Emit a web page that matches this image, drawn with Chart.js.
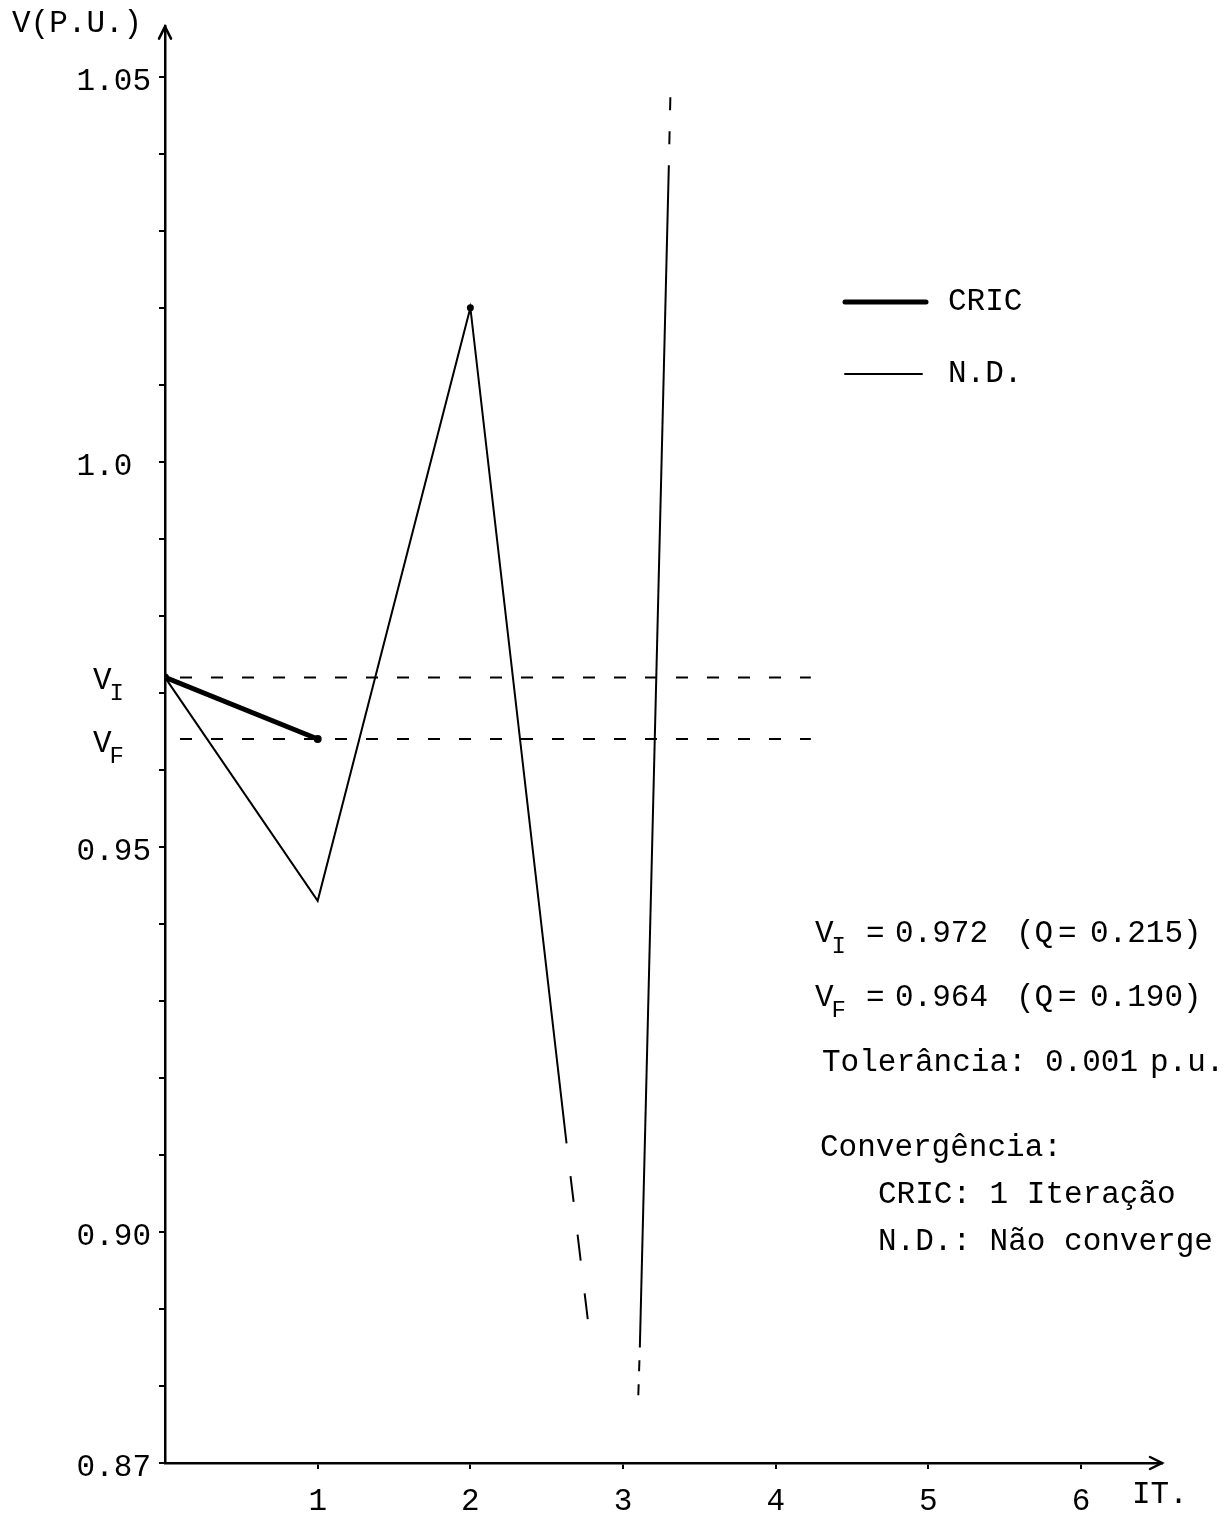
<!DOCTYPE html>
<html lang="pt">
<head>
<meta charset="utf-8">
<title>V (p.u.) x iterações</title>
<script src="https://cdn.jsdelivr.net/npm/chart.js@4.4.1/dist/chart.umd.min.js"></script>
<style>
  html, body { margin: 0; padding: 0; background: #fff; }
  canvas { display: block; }
</style>
</head>
<body>
<canvas id="grafico" width="1232" height="1514"></canvas>
<script>
// tensões e potências reativas (p.u.)
const vInicial = 0.972;
const vFinal = 0.964;
const qInicial = 0.215;
const qFinal = 0.190;
const tolerancia = 0.001;

// CRIC: converge em 1 iteração
const cricIter = [0, 1];
const cricV = [vInicial, vFinal];

// N.D.: oscila e sai da escala (último trecho tracejado)
const ndIter = [0, 1, 2, 2.63, 2.77];
const ndV = [vInicial, 0.943, 1.02, 0.9115, 0.8885];

// N.D.: subida após a 3a iteração (pontas tracejadas)
const ndSubidaIter = [3.10, 3.11, 3.30, 3.31];
const ndSubidaV = [0.8788, 0.885, 1.0385, 1.0474];

// extensão das retas de V_I e V_F
const refIter = [0, 4.23];

// eixos
const yTicks = [0.87, 0.88, 0.89, 0.90, 0.91, 0.92, 0.93, 0.94, 0.95, 0.96,
                0.97, 0.98, 0.99, 1.00, 1.01, 1.02, 1.03, 1.04, 1.05];
const yRotulosValor = [0.87, 0.90, 0.95, 1.0, 1.05];
const yRotulosTexto = ['0.87', '0.90', '0.95', '1.0 ', '1.05'];
const xTicks = [1, 2, 3, 4, 5, 6];

const fonte = '"Liberation Mono", "DejaVu Sans Mono", monospace';

function pontos(xs, ys) {
  return xs.map((x, i) => ({ x: x, y: ys[i] }));
}

function texto(ctx, str, x, y, size, align) {
  ctx.font = size + 'px ' + fonte;
  ctx.textAlign = align || 'left';
  ctx.textBaseline = 'middle';
  ctx.fillText(str, x, y);
}

// letra com índice subscrito (V_I, V_F)
function comIndice(ctx, base, sub, x, y) {
  texto(ctx, base, x, y, 31);
  const w = ctx.measureText(base).width;
  texto(ctx, sub, x + w - 2, y + 13, 24);
}

const anotacoes = {
  id: 'anotacoes',
  afterDraw(chart) {
    const { ctx, chartArea, scales } = chart;
    const ya = scales.y;
    ctx.save();
    ctx.fillStyle = '#000';
    ctx.strokeStyle = '#000';
    ctx.lineCap = 'round';

    // setas nas pontas dos eixos
    ctx.lineWidth = 2.5;
    ctx.beginPath();
    ctx.moveTo(chartArea.left - 6, chartArea.top + 12);
    ctx.lineTo(chartArea.left, chartArea.top);
    ctx.lineTo(chartArea.left + 6, chartArea.top + 12);
    ctx.stroke();
    ctx.beginPath();
    ctx.moveTo(chartArea.right - 12, chartArea.bottom - 6);
    ctx.lineTo(chartArea.right, chartArea.bottom);
    ctx.lineTo(chartArea.right - 12, chartArea.bottom + 6);
    ctx.stroke();

    // nomes dos eixos
    texto(ctx, 'V(P.U.)', 12, 24, 31);
    texto(ctx, 'IT.', 1132, 1495, 31);

    // V_I e V_F junto ao eixo vertical
    comIndice(ctx, 'V', 'I', 93, ya.getPixelForValue(vInicial) + 3);
    comIndice(ctx, 'V', 'F', 93, ya.getPixelForValue(vFinal) + 5);

    // legenda
    const itens = [chart.data.datasets[0], chart.data.datasets[1]];
    itens.forEach((ds, i) => {
      const ly = 302 + i * 72;
      ctx.lineWidth = ds.borderWidth;
      ctx.beginPath();
      ctx.moveTo(845, ly);
      ctx.lineTo(926 - i * 4, ly);
      ctx.stroke();
      texto(ctx, ds.label, 948, ly, 31);
    });

    // quadro de resultados
    comIndice(ctx, 'V', 'I', 815, 934);
    texto(ctx, '=', 866, 934, 31);
    texto(ctx, vInicial.toFixed(3), 895, 934, 31);
    texto(ctx, '(Q', 1016, 934, 31);
    texto(ctx, '=', 1058, 934, 31);
    texto(ctx, qInicial.toFixed(3) + ')', 1090, 934, 31);

    comIndice(ctx, 'V', 'F', 815, 998);
    texto(ctx, '=', 866, 998, 31);
    texto(ctx, vFinal.toFixed(3), 895, 998, 31);
    texto(ctx, '(Q', 1016, 998, 31);
    texto(ctx, '=', 1058, 998, 31);
    texto(ctx, qFinal.toFixed(3) + ')', 1090, 998, 31);

    texto(ctx, 'Tolerância:', 822, 1063, 31);
    texto(ctx, tolerancia.toFixed(3), 1045, 1063, 31);
    texto(ctx, 'p.u.', 1150, 1063, 31);

    texto(ctx, 'Convergência:', 820, 1148, 31);
    texto(ctx, 'CRIC: 1 Iteração', 878, 1195, 31);
    texto(ctx, 'N.D.: Não converge', 878, 1242, 31);

    ctx.restore();
  }
};

const ctx = document.getElementById('grafico').getContext('2d');

new Chart(ctx, {
  type: 'scatter',
  data: {
    datasets: [
      {
        label: 'CRIC',
        data: pontos(cricIter, cricV),
        showLine: true,
        borderColor: '#000',
        backgroundColor: '#000',
        borderWidth: 5,
        pointRadius: 4,
        pointBorderWidth: 0
      },
      {
        label: 'N.D.',
        data: pontos(ndIter, ndV),
        showLine: true,
        borderColor: '#000',
        backgroundColor: '#000',
        borderWidth: 2,
        pointRadius: c => (c.dataIndex === 2 ? 3.5 : 0),
        pointBorderWidth: 0,
        segment: {
          borderDash: c => (c.p0DataIndex === 3 ? [26, 33] : undefined),
          borderDashOffset: c => (c.p0DataIndex === 3 ? 26 : undefined)
        }
      },
      {
        label: 'N.D.',
        data: pontos(ndSubidaIter, ndSubidaV),
        showLine: true,
        borderColor: '#000',
        borderWidth: 2,
        pointRadius: 0,
        segment: {
          borderDash: c => (c.p0DataIndex === 0 ? [11, 13] : c.p0DataIndex === 2 ? [13, 21] : undefined),
          borderDashOffset: c => (c.p0DataIndex === 2 ? 13 : undefined)
        }
      },
      {
        label: 'V_I',
        data: pontos(refIter, [vInicial, vInicial]),
        showLine: true,
        borderColor: '#000',
        borderWidth: 2,
        borderDash: [12, 19],
        borderDashOffset: 16,
        pointRadius: 0
      },
      {
        label: 'V_F',
        data: pontos(refIter, [vFinal, vFinal]),
        showLine: true,
        borderColor: '#000',
        borderWidth: 2,
        borderDash: [12, 19],
        borderDashOffset: 16,
        pointRadius: 0
      }
    ]
  },
  options: {
    responsive: false,
    animation: false,
    layout: { padding: { top: 20, right: 70, left: 0, bottom: 0 } },
    plugins: {
      legend: { display: false },
      tooltip: { enabled: false }
    },
    scales: {
      x: {
        type: 'linear',
        min: 0,
        max: 6.53,
        afterFit: s => { s.height = 51; },
        afterBuildTicks: s => { s.ticks = xTicks.map(v => ({ value: v })); },
        border: { display: true, color: '#000', width: 2.5 },
        grid: { drawOnChartArea: false, drawTicks: true, tickLength: 6, color: '#000', lineWidth: 2 },
        ticks: {
          color: '#000',
          padding: 14,
          maxRotation: 0,
          font: { family: fonte, size: 31 },
          callback: v => String(v)
        }
      },
      y: {
        type: 'linear',
        min: 0.87,
        max: 1.0565,
        afterFit: s => { s.width = 165; },
        afterBuildTicks: s => { s.ticks = yTicks.map(v => ({ value: v })); },
        border: { display: true, color: '#000', width: 2.5 },
        grid: { drawOnChartArea: false, drawTicks: true, tickLength: 6, color: '#000', lineWidth: 2 },
        ticks: {
          color: '#000',
          padding: 8,
          labelOffset: 5,
          font: { family: fonte, size: 31 },
          callback: v => {
            const i = yRotulosValor.findIndex(r => Math.abs(r - v) < 1e-6);
            return i >= 0 ? yRotulosTexto[i] : '';
          }
        }
      }
    }
  },
  plugins: [anotacoes]
});
</script>
</body>
</html>
